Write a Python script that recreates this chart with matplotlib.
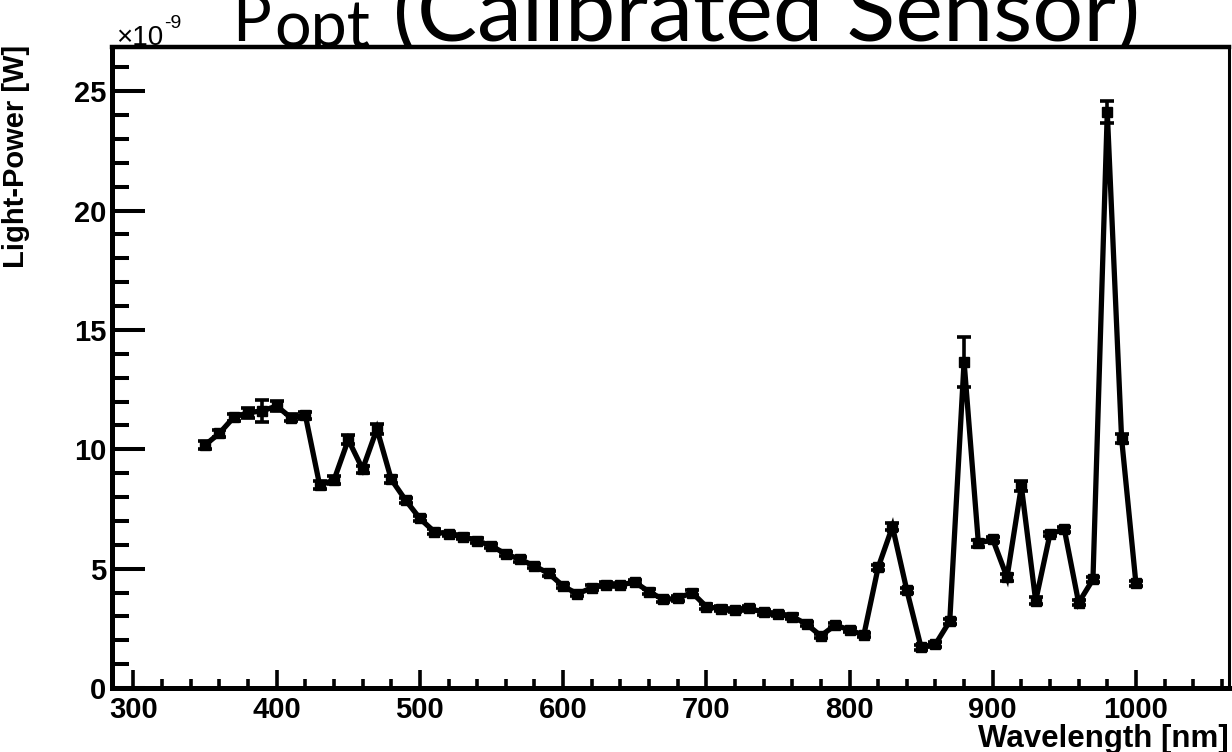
import numpy as np
import matplotlib
matplotlib.use("Agg")
import matplotlib.pyplot as plt
from matplotlib.ticker import MultipleLocator
from matplotlib.font_manager import FontProperties, fontManager

# wavelength scan [nm] and measured light power [1e-9 W]
wavelength = list(range(350, 1010, 10))
power = [10.18, 10.67, 11.34, 11.53, 11.61, 11.81, 11.32, 11.43, 8.50, 8.71,
         10.40, 9.17, 10.85, 8.74, 7.87, 7.10,
         6.55, 6.45, 6.34, 6.17, 5.95, 5.61, 5.39, 5.11, 4.80, 4.27,
         3.94, 4.20, 4.33, 4.31, 4.44,
         4.03, 3.71, 3.75, 4.00, 3.41, 3.32, 3.27, 3.34, 3.17, 3.10,
         2.99, 2.68, 2.18, 2.64, 2.43, 2.22,
         5.05, 6.76, 4.10, 1.70, 1.83, 2.80, 13.67, 6.06, 6.23, 4.64,
         8.45, 3.65, 6.45, 6.65, 3.57, 4.55, 24.12, 10.45, 4.38]
power_err = [0.15, 0.15, 0.15, 0.20, 0.45, 0.20, 0.15, 0.15, 0.15, 0.15,
             0.20, 0.15, 0.20, 0.15, 0.10, 0.10,
             0.10, 0.10, 0.10, 0.10, 0.10, 0.10, 0.10, 0.10, 0.10, 0.10,
             0.10, 0.10, 0.10, 0.10, 0.10,
             0.10, 0.10, 0.10, 0.10, 0.10, 0.10, 0.10, 0.10, 0.10, 0.10,
             0.10, 0.10, 0.10, 0.10, 0.10, 0.10,
             0.10, 0.15, 0.10, 0.10, 0.10, 0.10, 1.05, 0.15, 0.10, 0.15,
             0.20, 0.15, 0.10, 0.10, 0.10, 0.10, 0.45, 0.20, 0.10]

installed = {f.name for f in fontManager.ttflist}
narrow = 'Liberation Sans Narrow' if 'Liberation Sans Narrow' in installed \
    else 'Liberation Sans'

W, H = 1232, 752
fig = plt.figure(figsize=(W / 100, H / 100), dpi=100)
ax = fig.add_axes([112 / W, 1 - 688 / H, (1229 - 112) / W, (688 - 47) / H])

eb = ax.errorbar(wavelength, power, yerr=power_err, fmt='-s', color='black',
                 lw=3.8, ms=7, capsize=5, capthick=2.6, elinewidth=2.6)
eb[0].set_solid_joinstyle('miter')

ax.set_xlim(285, 1065)
ax.set_ylim(0, 26.85)

ax.xaxis.set_major_locator(MultipleLocator(100))
ax.xaxis.set_minor_locator(MultipleLocator(20))
ax.yaxis.set_major_locator(MultipleLocator(5))
ax.yaxis.set_minor_locator(MultipleLocator(1))

lab_font = {'family': 'Liberation Sans', 'weight': 'bold'}
ax.tick_params(axis='both', which='both', direction='in', color='black')
ax.tick_params(axis='y', which='major', length=24, width=2.9, pad=4)
ax.tick_params(axis='y', which='minor', length=12, width=2.9)
ax.tick_params(axis='x', which='major', length=13, width=2.6, pad=6)
ax.tick_params(axis='x', which='minor', length=6.5, width=2.6)
for lab in ax.get_xticklabels() + ax.get_yticklabels():
    lab.set_fontproperties(FontProperties(family='Liberation Sans',
                                          weight='bold', size=21))

for side in ['left', 'bottom']:
    ax.spines[side].set_linewidth(3.6)
ax.spines['top'].set_linewidth(3.2)
ax.spines['right'].set_linewidth(2.2)

# axis titles
fig.text(16 / W, 1 - 45 / H, 'Light-Power [W]', rotation=90, ha='center',
         va='top', fontsize=21, **lab_font)
fig.text(1229 / W, 1 - 747 / H, 'Wavelength [nm]', ha='right',
         va='baseline', fontsize=22.5, **lab_font)

# exponent of the y axis
t_x10 = fig.text(116 / W, 1 - 45 / H, '\u00d710', ha='left', va='baseline',
                 fontsize=20, family=narrow)
fig.canvas.draw()
r = fig.canvas.get_renderer()
x10_right = t_x10.get_window_extent(r).x1
fig.text((x10_right + 1) / W, 1 - 28 / H, '-9', ha='left', va='baseline',
         fontsize=14, family=narrow)

# big title, partly cut at the top edge
tfont = dict(family='Lato', zorder=-1)
t_main = fig.text(393 / W, 1 - 41 / H, '(Calibrated Sensor)', ha='left',
                  va='baseline', fontsize=56, **tfont)
t_p = fig.text(232 / W, 1 - 41 / H, 'P', ha='left', va='baseline',
               fontsize=56, **tfont)
t_sub = fig.text(268 / W, 1 - 47 / H, 'opt', ha='left', va='baseline',
                 fontsize=40, **tfont)
fig.canvas.draw()
size = 56 * 747 / t_main.get_window_extent(r).width
t_main.set_fontsize(size)
t_p.set_fontsize(size * 0.72)
fig.canvas.draw()
p_right = t_p.get_window_extent(r).x1
t_sub.set_x((p_right + 3) / W)
sub_w = t_sub.get_window_extent(r).width
t_sub.set_fontsize(40 * (370 - p_right - 3) / sub_w)

fig.savefig('out.png', dpi=100)
